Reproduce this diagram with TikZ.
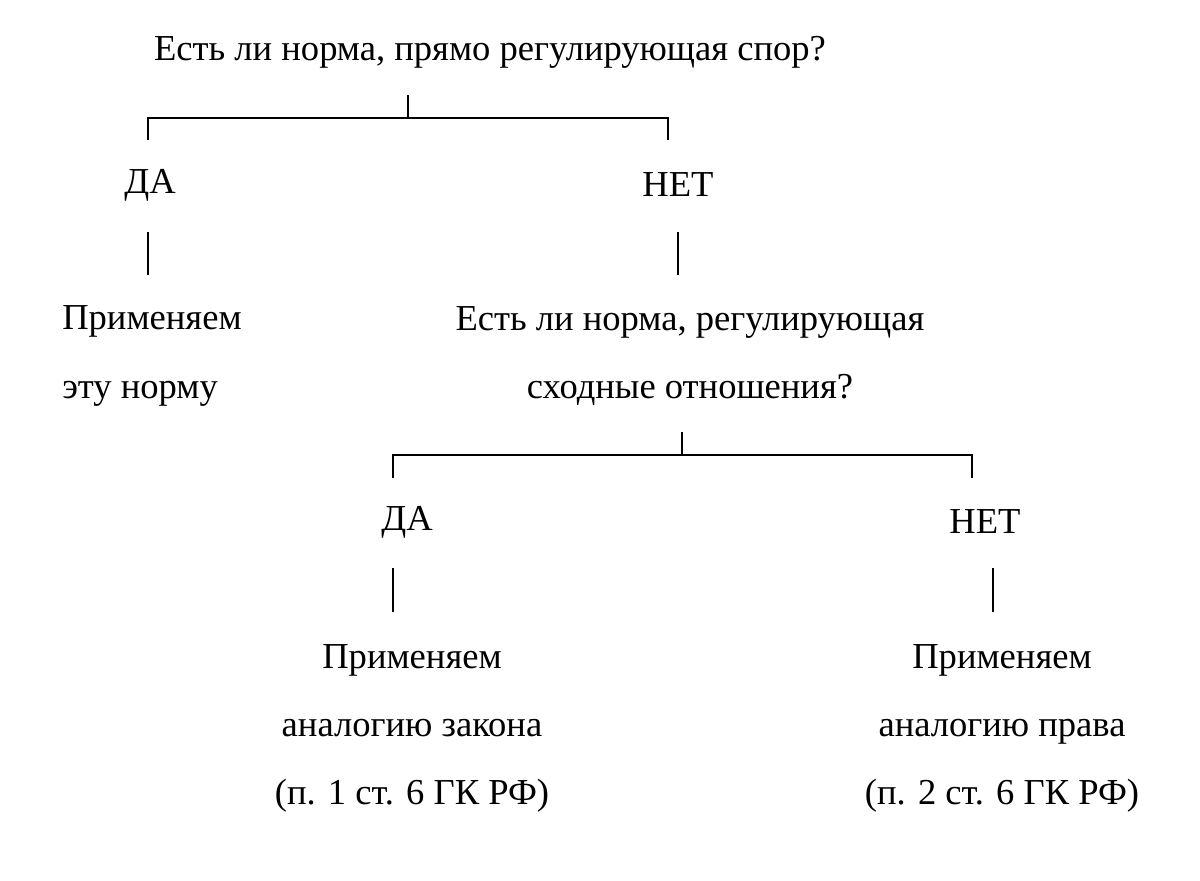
\documentclass[tikz,border=0pt]{standalone}
\usepackage{fontspec}
\setmainfont{Liberation Serif}
\usetikzlibrary{positioning}
\tikzset{txt/.style={inner sep=0pt,align=center,font=\fontsize{26}{48.4}\selectfont},
  branch/.style={line width=1.6pt}}
\begin{document}
\begin{tikzpicture}[x=0.025cm,y=-0.025cm]
\useasboundingbox (0,0) rectangle (1200,880);
% first question
\node[txt] (q1) at (490,52) {Есть ли норма, прямо регулирующая спор?};
\node[txt] (da1) at (150,185) {ДА};
\node[txt] (net1) at (678,185) {НЕТ};
\node[txt,align=left,anchor=west] (norm) at (62,356) {Применяем\\эту норму};
\node[txt] (q2) at (690,356) {Есть ли норма, регулирующая\\сходные отношения?};
% second level
\node[txt] (da2) at (407,522) {ДА};
\node[txt] (net2) at (985,522) {НЕТ};
\node[txt] (zakon) at (412,728) {Применяем\\аналогию закона\\(п. 1 ст. 6 ГК РФ)};
\node[txt] (prava) at (1002,728) {Применяем\\аналогию права\\(п. 2 ст. 6 ГК РФ)};
% brackets
\coordinate (s1) at (408,95);
\coordinate (l1) at (148,140);
\coordinate (r1) at (668,140);
\draw[branch] (s1) -- (s1 |- 0,118);
\draw[branch] (l1) -- (l1 |- 0,118) -- (r1 |- 0,118) -- (r1);
\coordinate (s2) at (682,432);
\coordinate (l2) at (393,478);
\coordinate (r2) at (972,478);
\draw[branch] (s2) -- (s2 |- 0,455);
\draw[branch] (l2) -- (l2 |- 0,455) -- (r2 |- 0,455) -- (r2);
% answers to results
\coordinate (a1) at (148,232); \coordinate (b1) at (148,275);
\coordinate (a2) at (678,232); \coordinate (b2) at (678,275);
\coordinate (a3) at (393,568); \coordinate (b3) at (393,612);
\coordinate (a4) at (993,568); \coordinate (b4) at (993,612);
\foreach \i in {1,...,4} \draw[branch] (a\i) -- (b\i);
\end{tikzpicture}
\end{document}
